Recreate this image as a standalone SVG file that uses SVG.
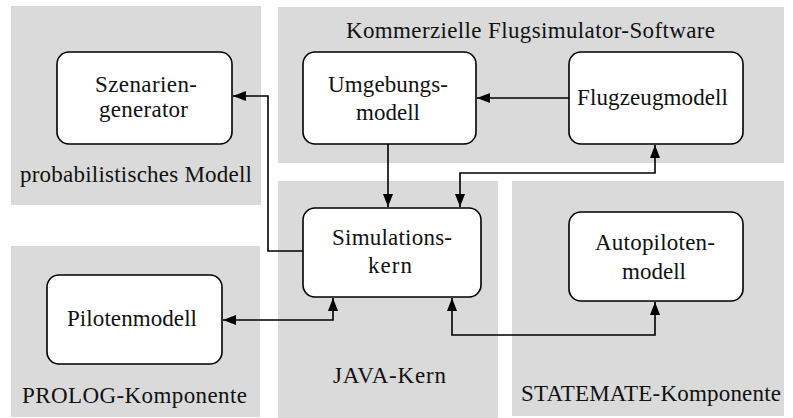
<svg xmlns="http://www.w3.org/2000/svg" width="793" height="418" viewBox="0 0 793 418">
  <style>
    .panel { fill: #dadada; }
    .box { fill: #ffffff; stroke: #000000; stroke-width: 1.6; }
    .wire { fill: none; stroke: #000000; stroke-width: 1.6; }
  </style>
  <defs>
    <marker id="arrow" viewBox="0 0 13 10" refX="13" refY="5" markerWidth="13" markerHeight="10" markerUnits="userSpaceOnUse" orient="auto-start-reverse">
      <path d="M0,0 L13,5 L0,10 Z" fill="#000000"/>
    </marker>
  </defs>

  <rect width="793" height="418" fill="#ffffff"/>

  <!-- component areas -->
  <g id="areas">
    <rect class="panel" x="11" y="6" width="250" height="199"/>
    <rect class="panel" x="278" y="7" width="506" height="156"/>
    <rect class="panel" x="278" y="181" width="220" height="237"/>
    <rect class="panel" x="512" y="181" width="272" height="235"/>
    <rect class="panel" x="11" y="246" width="249" height="171"/>
  </g>

  <!-- connectors -->
  <g id="connectors">
    <path class="wire" d="M303,251 H268 V96 H233" marker-end="url(#arrow)"/>
    <path class="wire" d="M388,144 V207" marker-end="url(#arrow)"/>
    <path class="wire" d="M569,98 H477" marker-end="url(#arrow)"/>
    <path class="wire" d="M460,207 V173 H655 V145" marker-start="url(#arrow)" marker-end="url(#arrow)"/>
    <path class="wire" d="M223,320 H333 V298" marker-start="url(#arrow)" marker-end="url(#arrow)"/>
    <path class="wire" d="M452,298 V335 H655 V302" marker-start="url(#arrow)" marker-end="url(#arrow)"/>
  </g>

  <g font-family="Liberation Serif, Times New Roman, serif" font-size="23" fill="#111111" lengthAdjust="spacing">
    <!-- area captions -->
    <g id="captions">
      <text x="346" y="38" textLength="369">Kommerzielle Flugsimulator-Software</text>
      <text x="20" y="182" textLength="232">probabilistisches Modell</text>
      <text x="22" y="403" textLength="225">PROLOG-Komponente</text>
      <text x="333" y="383" textLength="113">JAVA-Kern</text>
      <text x="521" y="401" textLength="260">STATEMATE-Komponente</text>
    </g>

    <!-- nodes -->
    <g id="szenariengenerator">
      <rect class="box" x="57" y="52" width="175" height="92" rx="12"/>
      <text x="95" y="92" textLength="102">Szenarien-</text>
      <text x="99" y="117" textLength="89">generator</text>
    </g>

    <g id="umgebungsmodell">
      <rect class="box" x="303" y="52" width="173" height="92" rx="12"/>
      <text x="328" y="92" textLength="120">Umgebungs-</text>
      <text x="356" y="120" textLength="64">modell</text>
    </g>

    <g id="flugzeugmodell">
      <rect class="box" x="569" y="52" width="174" height="92" rx="12"/>
      <text x="577" y="105" textLength="151">Flugzeugmodell</text>
    </g>

    <g id="simulationskern">
      <rect class="box" x="303" y="208" width="178" height="89" rx="12"/>
      <text x="332" y="245" textLength="120">Simulations-</text>
      <text x="368" y="273" textLength="44">kern</text>
    </g>

    <g id="autopilotenmodell">
      <rect class="box" x="569" y="212" width="174" height="89" rx="12"/>
      <text x="595" y="250" textLength="120">Autopiloten-</text>
      <text x="622" y="279" textLength="64">modell</text>
    </g>

    <g id="pilotenmodell">
      <rect class="box" x="47" y="275" width="175" height="89" rx="12"/>
      <text x="67" y="326" textLength="130">Pilotenmodell</text>
    </g>
  </g>
</svg>
